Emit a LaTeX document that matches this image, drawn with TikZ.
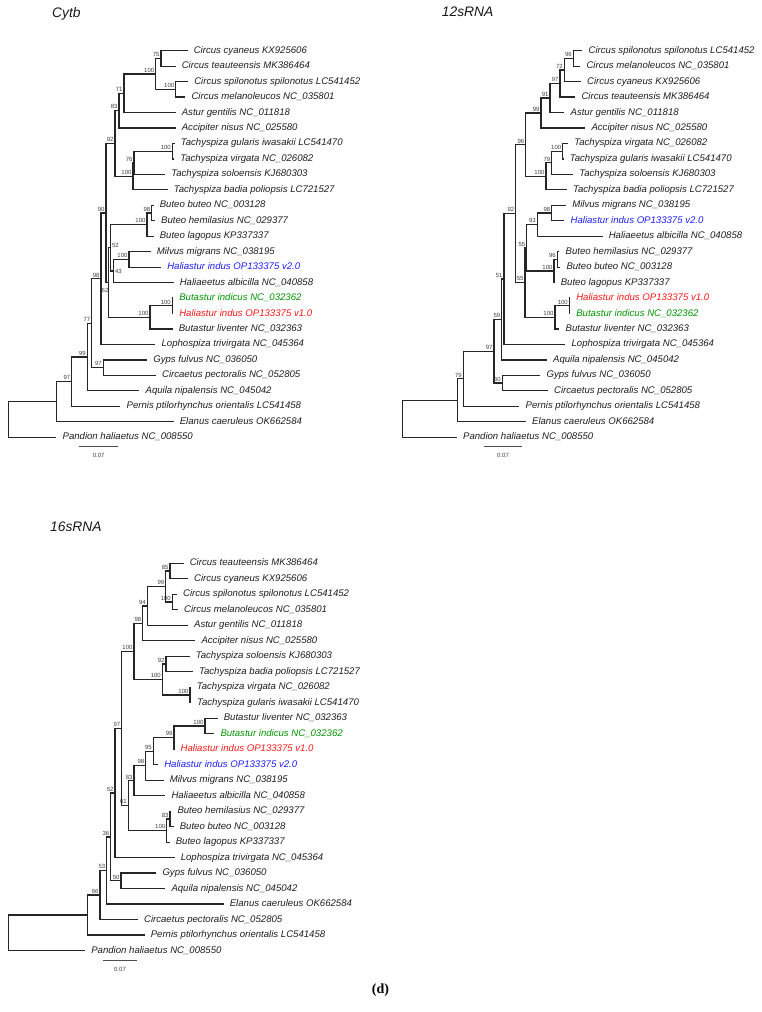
\documentclass[tikz,border=0pt]{standalone}
\usepackage{fontspec}
\setmainfont{Liberation Sans}
\newfontfamily\figserif{Liberation Serif}
\definecolor{hblue}{RGB}{30,30,255}
\definecolor{hred}{RGB}{255,25,25}
\definecolor{hgreen}{RGB}{0,150,0}
\tikzset{
 br/.style={draw=black!85, line width=1.25pt},
 leaf/.style={anchor=west, inner xsep=6.3pt, inner ysep=0pt, outer sep=0pt, text height=7pt, text depth=2pt, font=\fontsize{9.6}{11}\selectfont\itshape, text=black!88},
 bs/.style={anchor=south east, inner sep=0pt, outer sep=0pt, font=\fontsize{6}{7}\selectfont, text=black!75},
 bsc/.style={bs, anchor=center},
 ttl/.style={anchor=base west, inner sep=0pt, font=\fontsize{13.8}{16}\selectfont\itshape, text=black!90},
 sbar/.style={draw=black!70, line width=0.8pt},
}
\newcommand\mkleaf[5][]{\node[leaf,#1] (#2) at (#3,#4) {#5};}
\newcommand\mknode[4]{\coordinate (#1) at (#2,#3);\node[bs] (#1-bs) at ([xshift=-1.5pt,yshift=1.6pt]#1) {#4};}
\newcommand\mkbrs[3]{\draw[br] (#2) -| (#1) |- (#3);}
\begin{document}
\begin{tikzpicture}[x=1pt,y=-1pt]
\useasboundingbox (0,0) rectangle (761,1012);
\fill[white] (0,0) rectangle (761,1012);

% ================= Cytb =================
\node[ttl] (t-cytb) at (52,17.5) {Cytb};
\mkleaf{a0}{187.5}{50.70}{Circus cyaneus KX925606}
\mkleaf{a1}{175.5}{66.16}{Circus teauteensis MK386464}
\mkleaf{a2}{188}{81.62}{Circus spilonotus spilonotus LC541452}
\mkleaf{a3}{185.2}{97.08}{Circus melanoleucos NC\_035801}
\mkleaf{a4}{175.5}{112.54}{Astur gentilis NC\_011818}
\mkleaf{a5}{175.5}{128.00}{Accipiter nisus NC\_025580}
\mkleaf{a6}{174.5}{143.46}{Tachyspiza gularis iwasakii LC541470}
\mkleaf{a7}{174}{158.92}{Tachyspiza virgata NC\_026082}
\mkleaf{a8}{165}{174.38}{Tachyspiza soloensis KJ680303}
\mkleaf{a9}{167.5}{189.84}{Tachyspiza badia poliopsis LC721527}
\mkleaf{a10}{153.5}{205.30}{Buteo buteo NC\_003128}
\mkleaf{a11}{154.8}{220.76}{Buteo hemilasius NC\_029377}
\mkleaf{a12}{153.5}{236.22}{Buteo lagopus KP337337}
\mkleaf{a13}{150.5}{251.68}{Milvus migrans NC\_038195}
\mkleaf[text=hblue]{a14}{161}{267.14}{Haliastur indus OP133375 v2.0}
\mkleaf{a15}{173.5}{282.60}{Haliaeetus albicilla NC\_040858}
\mkleaf[text=hgreen]{a16}{173}{298.06}{Butastur indicus NC\_032362}
\mkleaf[text=hred]{a17}{173}{313.52}{Haliastur indus OP133375 v1.0}
\mkleaf{a18}{172.5}{328.98}{Butastur liventer NC\_032363}
\mkleaf{a19}{155.3}{344.44}{Lophospiza trivirgata NC\_045364}
\mkleaf{a20}{147}{359.90}{Gyps fulvus NC\_036050}
\mkleaf{a21}{155.8}{375.36}{Circaetus pectoralis NC\_052805}
\mkleaf{a22}{139.3}{390.82}{Aquila nipalensis NC\_045042}
\mkleaf{a23}{120.3}{406.28}{Pernis ptilorhynchus orientalis LC541458}
\mkleaf{a24}{173.5}{421.74}{Elanus caeruleus OK662584}
\mkleaf{a25}{56.3}{437.20}{Pandion haliaetus NC\_008550}

\mknode{c75}{161}{58.43}{75}
\mknode{c100a}{175.7}{89.35}{100}
\mknode{c100c}{155.7}{73.89}{100}
\mknode{c71}{124}{93.22}{71}
\mknode{c83}{119}{110.61}{83}
\mknode{c100g}{172.3}{151.19}{100}
\mknode{c76}{134}{162.79}{76}
\mknode{c100t}{133}{176.31}{100}
\mknode{c92}{115}{143.46}{92}
\mknode{c98b}{151.7}{213.03}{98}
\mknode{c100b}{147}{224.63}{100}
\mknode{c100m}{129}{259.41}{100}
\coordinate (c43) at (113.5,271.0);
\node[bsc] (c43-bs) at (118.4,271.5) {43};
\coordinate (c52) at (110.5,247.82);
\node[bsc] (c52-bs) at (115.5,245.5) {52};
\mknode{c100i}{172.3}{305.79}{100}
\mknode{c100bu}{150}{317.39}{100}
\coordinate (c62) at (108.5,282.6);
\node[bsc] (c62-bs) at (105,290) {62};
\mknode{c90}{106}{213.03}{90}
\mknode{c98}{101}{278.74}{98}
\mknode{c97g}{103.3}{367.63}{97}
\mknode{c77}{91.7}{323.19}{77}
\mknode{c99}{87.3}{357.0}{99}
\mknode{c97}{71.7}{381.64}{97}
\coordinate (cC) at (56.7,401.69);
\coordinate (cR) at (8.3,419.45);

\mkbrs{c75}{a0.west}{a1.west}
\mkbrs{c100a}{a2.west}{a3.west}
\mkbrs{c100c}{c75}{c100a}
\mkbrs{c71}{c100c}{a4.west}
\mkbrs{c83}{c71}{a5.west}
\mkbrs{c100g}{a6.west}{a7.west}
\mkbrs{c76}{c100g}{a8.west}
\mkbrs{c100t}{c76}{a9.west}
\mkbrs{c92}{c83}{c100t}
\mkbrs{c98b}{a10.west}{a11.west}
\mkbrs{c100b}{c98b}{a12.west}
\mkbrs{c100m}{a13.west}{a14.west}
\mkbrs{c43}{c100m}{a15.west}
\mkbrs{c52}{c100b}{c43}
\mkbrs{c100i}{a16.west}{a17.west}
\mkbrs{c100bu}{c100i}{a18.west}
\mkbrs{c62}{c52}{c100bu}
\mkbrs{c90}{c92}{c62}
\mkbrs{c98}{c90}{a19.west}
\mkbrs{c97g}{a20.west}{a21.west}
\mkbrs{c77}{c98}{c97g}
\mkbrs{c99}{c77}{a22.west}
\mkbrs{c97}{c99}{a23.west}
\mkbrs{cC}{c97}{a24.west}
\mkbrs{cR}{cC}{a25.west}

\coordinate (sa1) at (79,446.7);
\coordinate (sa2) at (118.3,446.7);
\draw[sbar] (sa1) -- (sa2);
\node[bsc] (sa-l) at (98.7,455) {0.07};

% ================= 12sRNA =================
\node[ttl] (t-12s) at (441.7,16.7) {12sRNA};
\mkleaf{b0}{582.3}{50.70}{Circus spilonotus spilonotus LC541452}
\mkleaf{b1}{580.2}{66.16}{Circus melanoleucos NC\_035801}
\mkleaf{b2}{580.8}{81.62}{Circus cyaneus KX925606}
\mkleaf{b3}{575.2}{97.08}{Circus teauteensis MK386464}
\mkleaf{b4}{564.3}{112.54}{Astur gentilis NC\_011818}
\mkleaf{b5}{585.2}{128.00}{Accipiter nisus NC\_025580}
\mkleaf{b6}{568}{143.46}{Tachyspiza virgata NC\_026082}
\mkleaf{b7}{563.5}{158.92}{Tachyspiza gularis iwasakii LC541470}
\mkleaf{b8}{573}{174.38}{Tachyspiza soloensis KJ680303}
\mkleaf{b9}{566.8}{189.84}{Tachyspiza badia poliopsis LC721527}
\mkleaf{b10}{566}{205.30}{Milvus migrans NC\_038195}
\mkleaf[text=hblue]{b11}{564.3}{220.76}{Haliastur indus OP133375 v2.0}
\mkleaf{b12}{602.5}{236.22}{Haliaeetus albicilla NC\_040858}
\mkleaf{b13}{559.3}{251.68}{Buteo hemilasius NC\_029377}
\mkleaf{b14}{560.2}{267.14}{Buteo buteo NC\_003128}
\mkleaf{b15}{554.5}{282.60}{Buteo lagopus KP337337}
\mkleaf[text=hred]{b16}{570}{298.06}{Haliastur indus OP133375 v1.0}
\mkleaf[text=hgreen]{b17}{570}{313.52}{Butastur indicus NC\_032362}
\mkleaf{b18}{559.3}{328.98}{Butastur liventer NC\_032363}
\mkleaf{b19}{565.3}{344.44}{Lophospiza trivirgata NC\_045364}
\mkleaf{b20}{546.8}{359.90}{Aquila nipalensis NC\_045042}
\mkleaf{b21}{540.3}{375.36}{Gyps fulvus NC\_036050}
\mkleaf{b22}{547.8}{390.82}{Circaetus pectoralis NC\_052805}
\mkleaf{b23}{519.3}{406.28}{Pernis ptilorhynchus orientalis LC541458}
\mkleaf{b24}{525.8}{421.74}{Elanus caeruleus OK662584}
\mkleaf{b25}{456.8}{437.20}{Pandion haliaetus NC\_008550}

\mknode{d96}{573.3}{58.43}{96}
\mknode{d72}{564.3}{70.03}{72}
\mknode{d97}{560}{83.55}{97}
\mknode{d91}{550}{98.05}{91}
\mknode{d99}{541}{113.02}{99}
\mknode{d100v}{562.7}{151.19}{100}
\mknode{d79}{551.7}{162.79}{79}
\mknode{d100t}{546}{176.31}{100}
\mknode{d96b}{525.7}{144.67}{96}
\mknode{d98}{551.7}{213.03}{98}
\mknode{d93}{537.3}{224.63}{93}
\mknode{d96c}{557.3}{259.41}{96}
\mknode{d100b}{554}{271.0}{100}
\mknode{d55a}{526.7}{247.82}{55}
\mknode{d100i}{569.3}{305.79}{100}
\mknode{d100bu}{555}{317.39}{100}
\mknode{d55b}{525}{282.6}{55}
\mknode{d92}{515.7}{213.64}{92}
\mknode{d51}{504}{279.04}{51}
\mknode{d59}{501.7}{319.47}{59}
\mknode{d60}{502.3}{383.09}{60}
\mknode{d97r}{494}{351.28}{97}
\mknode{d79r}{463.3}{378.78}{79}
\coordinate (dC) at (457.7,400.26);
\coordinate (dR) at (402.7,418.73);

\mkbrs{d96}{b0.west}{b1.west}
\mkbrs{d72}{d96}{b2.west}
\mkbrs{d97}{d72}{b3.west}
\mkbrs{d91}{d97}{b4.west}
\mkbrs{d99}{d91}{b5.west}
\mkbrs{d100v}{b6.west}{b7.west}
\mkbrs{d79}{d100v}{b8.west}
\mkbrs{d100t}{d79}{b9.west}
\mkbrs{d96b}{d99}{d100t}
\mkbrs{d98}{b10.west}{b11.west}
\mkbrs{d93}{d98}{b12.west}
\mkbrs{d96c}{b13.west}{b14.west}
\mkbrs{d100b}{d96c}{b15.west}
\mkbrs{d55a}{d93}{d100b}
\mkbrs{d100i}{b16.west}{b17.west}
\mkbrs{d100bu}{d100i}{b18.west}
\mkbrs{d55b}{d55a}{d100bu}
\mkbrs{d92}{d96b}{d55b}
\mkbrs{d51}{d92}{b19.west}
\mkbrs{d59}{d51}{b20.west}
\mkbrs{d60}{b21.west}{b22.west}
\mkbrs{d97r}{d59}{d60}
\mkbrs{d79r}{d97r}{b23.west}
\mkbrs{dC}{d79r}{b24.west}
\mkbrs{dR}{dC}{b25.west}

\coordinate (sb1) at (484.3,446.7);
\coordinate (sb2) at (521.7,446.7);
\draw[sbar] (sb1) -- (sb2);
\node[bsc] (sb-l) at (503,455) {0.07};

% ================= 16sRNA =================
\node[ttl] (t-16s) at (50,531) {16sRNA};
\mkleaf{e0}{183.5}{563.30}{Circus teauteensis MK386464}
\mkleaf{e1}{187.8}{578.79}{Circus cyaneus KX925606}
\mkleaf{e2}{176.8}{594.28}{Circus spilonotus spilonotus LC541452}
\mkleaf{e3}{177.8}{609.77}{Circus melanoleucos NC\_035801}
\mkleaf{e4}{187.8}{625.26}{Astur gentilis NC\_011818}
\mkleaf{e5}{195.2}{640.75}{Accipiter nisus NC\_025580}
\mkleaf{e6}{189.5}{656.24}{Tachyspiza soloensis KJ680303}
\mkleaf{e7}{192.8}{671.73}{Tachyspiza badia poliopsis LC721527}
\mkleaf{e8}{190.5}{687.22}{Tachyspiza virgata NC\_026082}
\mkleaf{e9}{190.8}{702.71}{Tachyspiza gularis iwasakii LC541470}
\mkleaf{e10}{217.5}{718.20}{Butastur liventer NC\_032363}
\mkleaf[text=hgreen]{e11}{214.2}{733.69}{Butastur indicus NC\_032362}
\mkleaf[text=hred]{e12}{174.4}{749.18}{Haliastur indus OP133375 v1.0}
\mkleaf[text=hblue]{e13}{158}{764.67}{Haliastur indus OP133375 v2.0}
\mkleaf{e14}{163.5}{780.16}{Milvus migrans NC\_038195}
\mkleaf{e15}{165.2}{795.65}{Haliaeetus albicilla NC\_040858}
\mkleaf{e16}{171.2}{811.14}{Buteo hemilasius NC\_029377}
\mkleaf{e17}{173.5}{826.63}{Buteo buteo NC\_003128}
\mkleaf{e18}{169.5}{842.12}{Buteo lagopus KP337337}
\mkleaf{e19}{174.5}{857.61}{Lophospiza trivirgata NC\_045364}
\mkleaf{e20}{156.2}{873.10}{Gyps fulvus NC\_036050}
\mkleaf{e21}{165.2}{888.59}{Aquila nipalensis NC\_045042}
\mkleaf{e22}{223.5}{904.08}{Elanus caeruleus OK662584}
\mkleaf{e23}{137.8}{919.57}{Circaetus pectoralis NC\_052805}
\mkleaf{e24}{144.5}{935.06}{Pernis ptilorhynchus orientalis LC541458}
\mkleaf{e25}{85}{950.55}{Pandion haliaetus NC\_008550}

\mknode{f85}{170}{571.05}{85}
\mknode{f100c}{172.3}{602.03}{100}
\mknode{f99}{165.7}{586.54}{99}
\mknode{f94}{147.3}{605.90}{94}
\mknode{f98}{142.7}{623.33}{98}
\mknode{f92}{166}{663.99}{92}
\mknode{f100v}{190}{694.97}{100}
\mknode{f100t}{162.3}{679.48}{100}
\mknode{f100a}{134}{651.41}{100}
\mknode{f100bu}{205}{725.95}{100}
\mknode{f99b}{174}{737.57}{99}
\mknode{f95}{153.3}{751.12}{95}
\mknode{f98b}{145.7}{765.64}{98}
\mknode{f83}{134}{780.65}{83}
\mknode{f83b}{170}{818.89}{83}
\mknode{f100b}{166.7}{830.51}{100}
\mknode{f61}{128.3}{805.58}{61}
\mknode{f97}{121.7}{728.50}{97}
\mknode{f52}{115}{793.06}{52}
\mknode{f50}{121}{880.85}{50}
\mknode{f36}{110.7}{836.96}{36}
\mknode{f53}{106.7}{870.52}{53}
\mknode{f66}{100}{895.05}{66}
\coordinate (fP) at (87.3,915.06);
\coordinate (fR) at (8.3,932.81);

\mkbrs{f85}{e0.west}{e1.west}
\mkbrs{f100c}{e2.west}{e3.west}
\mkbrs{f99}{f85}{f100c}
\mkbrs{f94}{f99}{e4.west}
\mkbrs{f98}{f94}{e5.west}
\mkbrs{f92}{e6.west}{e7.west}
\mkbrs{f100v}{e8.west}{e9.west}
\mkbrs{f100t}{f92}{f100v}
\mkbrs{f100a}{f98}{f100t}
\mkbrs{f100bu}{e10.west}{e11.west}
\mkbrs{f99b}{f100bu}{e12.west}
\mkbrs{f95}{f99b}{e13.west}
\mkbrs{f98b}{f95}{e14.west}
\mkbrs{f83}{f98b}{e15.west}
\mkbrs{f83b}{e16.west}{e17.west}
\mkbrs{f100b}{f83b}{e18.west}
\mkbrs{f61}{f83}{f100b}
\mkbrs{f97}{f100a}{f61}
\mkbrs{f52}{f97}{e19.west}
\mkbrs{f50}{e20.west}{e21.west}
\mkbrs{f36}{f52}{f50}
\mkbrs{f53}{f36}{e22.west}
\mkbrs{f66}{f53}{e23.west}
\mkbrs{fP}{f66}{e24.west}
\mkbrs{fR}{fP}{e25.west}

\coordinate (sc1) at (103.3,960.7);
\coordinate (sc2) at (136.7,960.7);
\draw[sbar] (sc1) -- (sc2);
\node[bsc] (sc-l) at (120,969) {0.07};

% panel label
\node[inner sep=0pt, font=\figserif\bfseries\fontsize{14}{16}\selectfont] (dlab) at (380.5,990) {(d)};
\end{tikzpicture}
\end{document}
